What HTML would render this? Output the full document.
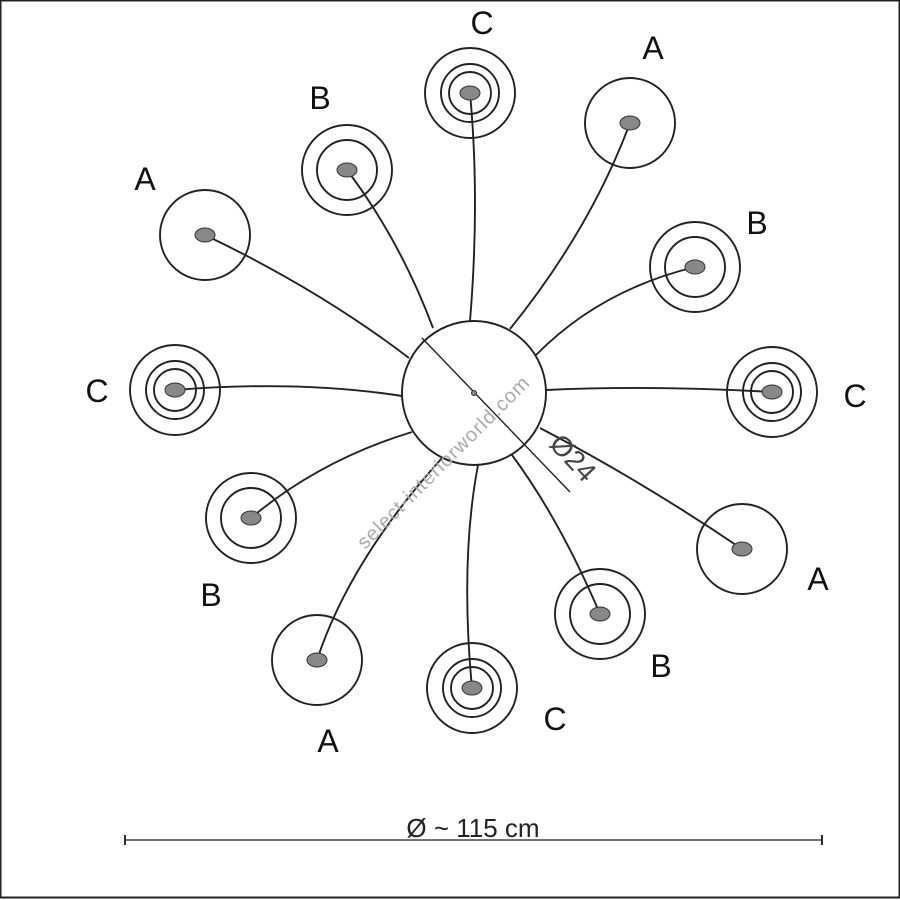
<!DOCTYPE html>
<html><head><style>body{margin:0;background:#fff}svg{display:block}</style></head><body>
<svg width="900" height="900" viewBox="0 0 900 900" xmlns="http://www.w3.org/2000/svg" font-family="Liberation Sans, sans-serif">
<rect x="0.5" y="0.5" width="899" height="897" fill="#fff" stroke="#222" stroke-width="2"/>
<g fill="none" stroke="#222" stroke-width="1.9">
<path d="M205,235 Q320,290 409,358"/>
<path d="M347,170 Q400,240 433,328"/>
<path d="M470,93 Q480,200 470,321"/>
<path d="M630,123 Q590,230 510,329"/>
<path d="M695,267 Q600,290 536,355"/>
<path d="M772,392 Q650,385 546,390"/>
<path d="M742,549 Q640,480 540,428"/>
<path d="M600,614 Q560,520 512,455"/>
<path d="M472,688 Q460,560 478,465"/>
<path d="M317,660 Q350,560 442,458"/>
<path d="M251,518 Q320,460 412,432"/>
<path d="M175,390 Q300,380 402,396"/>
<circle cx="474" cy="393" r="72" fill="#fff"/>
<circle cx="205" cy="235" r="45"/><circle cx="630" cy="123" r="45"/><circle cx="742" cy="549" r="45"/><circle cx="317" cy="660" r="45"/>
<circle cx="347" cy="170" r="45"/><circle cx="347" cy="170" r="30"/>
<circle cx="695" cy="267" r="45"/><circle cx="695" cy="267" r="30"/>
<circle cx="600" cy="614" r="45"/><circle cx="600" cy="614" r="30"/>
<circle cx="251" cy="518" r="45"/><circle cx="251" cy="518" r="30"/>
<circle cx="470" cy="93" r="45"/><circle cx="470" cy="93" r="29"/><circle cx="470" cy="93" r="21"/>
<circle cx="772" cy="392" r="45"/><circle cx="772" cy="392" r="29"/><circle cx="772" cy="392" r="21"/>
<circle cx="472" cy="688" r="45"/><circle cx="472" cy="688" r="29"/><circle cx="472" cy="688" r="21"/>
<circle cx="175" cy="390" r="45"/><circle cx="175" cy="390" r="29"/><circle cx="175" cy="390" r="21"/>
<line x1="422" y1="338" x2="570" y2="492" stroke-width="1.4"/>
<line x1="125" y1="840" x2="822" y2="840" stroke-width="1.3"/>
<line x1="125" y1="835" x2="125" y2="845"/><line x1="822" y1="835" x2="822" y2="845"/>
</g>
<g fill="#888" stroke="#333" stroke-width="1">
<ellipse cx="205" cy="235" rx="10" ry="7"/><ellipse cx="630" cy="123" rx="10" ry="7"/><ellipse cx="742" cy="549" rx="10" ry="7"/><ellipse cx="317" cy="660" rx="10" ry="7"/>
<ellipse cx="347" cy="170" rx="10" ry="7"/><ellipse cx="695" cy="267" rx="10" ry="7"/><ellipse cx="600" cy="614" rx="10" ry="7"/><ellipse cx="251" cy="518" rx="10" ry="7"/>
<ellipse cx="470" cy="93" rx="10" ry="7"/><ellipse cx="772" cy="392" rx="10" ry="7"/><ellipse cx="472" cy="688" rx="10" ry="7"/><ellipse cx="175" cy="390" rx="10" ry="7"/>
<circle cx="474" cy="393" r="2.5"/>
</g>
<g font-size="32" fill="#111" text-anchor="middle">
<text x="145" y="190">A</text><text x="653" y="59">A</text><text x="818" y="590">A</text><text x="328" y="752">A</text>
<text x="320" y="109">B</text><text x="757" y="234">B</text><text x="661" y="677">B</text><text x="211" y="606">B</text>
<text x="482" y="34">C</text><text x="855" y="407">C</text><text x="555" y="730">C</text><text x="97" y="402">C</text>
</g>
<text x="473" y="837" font-size="26" text-anchor="middle" fill="#222">Ø ~ 115 cm</text>
<text transform="translate(548,445) rotate(47)" font-size="28" fill="#444">Ø24</text>
<text transform="translate(365,550) rotate(-45)" font-size="20" fill="#aaa" letter-spacing="1">select-interiorworld.com</text>
</svg>
</body></html>
